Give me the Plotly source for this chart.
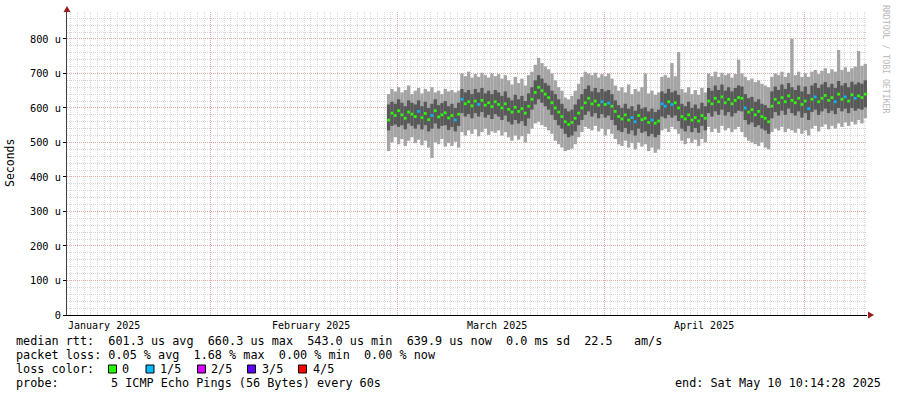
import plotly.graph_objects as go
import pandas as pd

# ---------------- data (µs), one column per 12 h, starting 2025-02-27 ----------------
ping_max = [
    640, 655, 648, 660, 645, 652, 665, 640, 650, 658, 642, 655, 648, 660, 645, 650, 640, 655, 648, 652, 645, 650,
    700, 692, 705, 688, 698, 690, 702, 695, 688, 700, 692, 698, 685, 695,
    680, 668, 690, 672, 685, 665, 695,
    705, 725, 745, 730, 720, 712, 700,
    680, 660, 650, 630, 625, 635, 650, 670,
    690, 705, 700, 695, 702, 688, 698, 692, 700, 685,
    665, 650, 660, 645, 668, 640, 655, 648, 660, 700, 642, 650, 638, 645,
    690, 695, 688, 730, 692, 762,
    655, 645, 660, 640, 652, 638, 658, 645,
    700, 692, 705, 690, 702, 695, 700, 688, 698, 740,
    700, 690, 680, 685, 675, 680, 670, 665,
    660, 690, 700, 695, 705, 690, 702, 800, 695, 705, 690,
    700, 690, 705, 710, 698, 708, 715, 700, 712, 705, 768, 710, 718, 705, 715, 720, 765, 722, 728,
]
ping_q3 = [
    610, 618, 612, 625, 615, 605, 622, 615, 610, 622, 605, 618, 600, 612, 625, 608, 614, 620, 605, 612, 600, 615,
    655, 645, 652, 640, 655, 645, 658, 642, 650, 640, 652, 645, 635, 648,
    630, 622, 638, 625, 635, 620, 642,
    660, 680, 695, 685, 672, 665, 650,
    640, 625, 612, 598, 590, 595, 610, 625,
    640, 655, 665, 648, 658, 645, 655, 648, 652, 640,
    622, 608, 600, 612, 598, 605, 592, 610, 598, 602, 590, 598, 588, 595,
    648, 642, 655, 645, 650, 638,
    612, 605, 618, 600, 610, 598, 615, 605,
    658, 650, 665, 652, 668, 650, 660, 648, 658, 665,
    662, 640, 628, 632, 618, 625, 612, 608,
    600, 648, 662, 652, 668, 655, 672, 660, 652, 665, 648,
    662, 640, 665, 672, 658, 668, 675, 660, 670, 658, 678, 665, 672, 660, 676, 668, 674, 670, 680,
]
median = [
    565, 585, 578, 592, 580, 570, 588, 582, 575, 590, 572, 584, 566, 578, 592, 574, 580, 586, 571, 578, 565, 582,
    625, 612, 618, 606, 620, 610, 622, 608, 615, 604, 618, 610, 600, 612,
    596, 588, 602, 590, 598, 585, 605,
    625, 645, 660, 650, 640, 630, 615,
    600, 588, 575, 560, 552, 558, 570, 585,
    600, 615, 628, 612, 620, 608, 618, 610, 614, 605,
    590, 575, 568, 580, 565, 572, 560, 578, 566, 570, 558, 565, 556, 562,
    612, 605, 618, 610, 615, 600,
    575, 568, 580, 565, 572, 562, 578, 570,
    620, 612, 628, 618, 632, 615, 625, 612, 622, 630,
    628, 600, 588, 595, 580, 590, 575, 570,
    560, 605, 625, 615, 630, 618, 635, 622, 615, 628, 610,
    620, 598, 625, 632, 618, 628, 636, 622, 630, 618, 640, 625, 632, 620, 638, 628, 635, 630, 640,
]
ping_q1 = [
    535, 548, 552, 545, 550, 538, 555, 548, 540, 552, 538, 550, 532, 540, 555, 540, 548, 550, 536, 545, 532, 548,
    585, 575, 582, 570, 585, 575, 588, 572, 580, 568, 582, 575, 565, 578,
    560, 552, 565, 555, 562, 548, 570,
    595, 610, 625, 615, 605, 595, 580,
    565, 550, 540, 525, 515, 520, 532, 550,
    565, 580, 590, 575, 585, 570, 582, 572, 578, 565,
    550, 535, 530, 542, 525, 535, 520, 540, 528, 532, 518, 525, 515, 522,
    575, 570, 580, 572, 578, 562,
    540, 532, 548, 530, 542, 528, 548, 535,
    585, 575, 590, 580, 595, 578, 588, 575, 585, 592,
    590, 565, 552, 558, 545, 550, 540, 535,
    525, 570, 588, 578, 592, 580, 598, 585, 578, 590, 572,
    585, 565, 588, 595, 580, 590, 598, 585, 592, 582, 600, 590, 598, 585, 600, 592, 598, 595, 602,
]
ping_min = [
    475, 500, 515, 495, 510, 490, 505, 515, 498, 508, 492, 505, 485, 455, 500, 495, 510, 488, 498, 490, 502, 485,
    530, 520, 535, 525, 538, 518, 530, 540, 522, 532, 528, 535, 520, 530,
    515, 505, 520, 508, 518, 500, 525,
    540, 555, 560, 550, 545, 535, 525,
    505, 495, 485, 475, 478, 482, 495, 515,
    530, 545, 540, 535, 548, 532, 540, 520, 538, 525,
    510, 495, 490, 505, 485, 498, 480, 500, 488, 495, 475, 485, 470, 480,
    535, 540, 530, 545, 538, 525,
    505, 495, 512, 498, 508, 490, 510, 500,
    545, 530, 540, 528, 548, 535, 542, 530, 538, 545,
    530, 515, 505, 500, 495, 490, 500, 485,
    480, 530, 540, 535, 545, 530, 540, 535, 528, 540, 525,
    535, 520, 540, 548, 532, 545, 552, 538, 548, 540, 555, 545, 558, 548, 560, 552, 565, 555, 570,
]
loss = [
    0, 0, 0, 0, 0, 0, 0, 0, 0, 1, 0, 0, 0, 1, 0, 0, 0, 0, 0, 0, 1, 0,
    1, 0, 0, 0, 0, 1, 0, 0, 0, 0, 0, 0, 0, 0,
    0, 0, 0, 0, 0, 0, 0,
    0, 0, 0, 0, 0, 0, 0,
    0, 0, 0, 0, 0, 0, 0, 0,
    0, 0, 0, 0, 0, 0, 1, 0, 1, 0,
    0, 0, 0, 0, 0, 1, 1, 0, 0, 0, 0, 1, 0, 0,
    1, 1, 0, 1, 0, 0,
    0, 0, 0, 0, 0, 0, 0, 0,
    0, 0, 0, 0, 0, 0, 0, 0, 0, 0,
    0, 1, 0, 0, 0, 0, 0, 0,
    0, 0, 0, 0, 0, 0, 0, 0, 0, 0, 0,
    0, 1, 0, 1, 0, 0, 0, 0, 0, 1, 0, 0, 1, 0, 0, 1, 0, 0, 0,
]

y_tick_vals = [0, 100, 200, 300, 400, 500, 600, 700, 800]
y_tick_text = ["0", "100 u", "200 u", "300 u", "400 u", "500 u", "600 u", "700 u", "800 u"]
month_label_dates = ["2025-01-16", "2025-02-16", "2025-03-16", "2025-04-16"]
month_labels = ["January 2025", "February 2025", "March 2025", "April 2025"]
loss_names = ["0", "1/5", "2/5", "3/5", "4/5"]
loss_colors = ["#26ff00", "#00b8ff", "#d400ff", "#5e00ff", "#ff0000"]

x_start, x_end = "2025-01-10 10:14:28", "2025-05-10 10:14:28"
first_col = pd.Timestamp("2025-02-27 16:00")
step = pd.Timedelta(hours=12)
step_ms = step.total_seconds() * 1000
xs = [first_col + step * i for i in range(len(median))]

# ---------------- layout geometry ----------------
L, T, W, H = 67, 12, 800, 303
FIG_W, FIG_H = 897, 397
def px(x):
    return (x - L) / W
def py(y):
    return (T + H - y) / H

MONO = "DejaVu Sans Mono"
NB = "\u00a0"
def nb(s):
    return s.replace(" ", NB)

fig = go.Figure()

LIGHT, DARK = "#a4a4a4", "#585858"
fig.add_trace(go.Bar(x=xs, base=ping_min, y=[h - l for h, l in zip(ping_max, ping_min)],
                     width=step_ms, marker=dict(color=LIGHT, line=dict(width=0)), hoverinfo="skip"))
fig.add_trace(go.Bar(x=xs, base=ping_q1, y=[h - l for h, l in zip(ping_q3, ping_q1)],
                     width=step_ms, marker=dict(color=DARK, line=dict(width=0)), hoverinfo="skip"))
MED_H = 8
fig.add_trace(go.Bar(x=xs, base=[m - MED_H / 2 for m in median], y=[MED_H] * len(median),
                     width=step_ms * 0.8, marker=dict(color=[loss_colors[l] for l in loss], line=dict(width=0)),
                     hoverinfo="skip"))

DOT = "1px,1px"
MINOR = "#d6d6d6"
MAJOR = "#e4a8a8"
fig.update_layout(
    width=FIG_W, height=FIG_H,
    margin=dict(l=L, r=FIG_W - L - W, t=T, b=FIG_H - T - H, pad=0),
    paper_bgcolor="white", plot_bgcolor="white",
    barmode="overlay", showlegend=False,
    font=dict(family=MONO, size=10, color="black"),
    xaxis=dict(
        type="date", range=[x_start, x_end],
        tick0="2025-01-01", dtick="M1", showticklabels=False, ticks="",
        showgrid=True, gridcolor=MAJOR, griddash=DOT, gridwidth=1,
        minor=dict(dtick=86400000, tick0="2025-01-01", showgrid=True, gridcolor=MINOR, griddash=DOT),
        showline=True, linecolor="black", linewidth=1, zeroline=False, fixedrange=True,
    ),
    yaxis=dict(
        range=[0, 878], tickvals=y_tick_vals, ticktext=y_tick_text,
        tickfont=dict(family=MONO, size=10.3, color="black"),
        ticks="outside", ticklen=3, tickcolor="black",
        showgrid=True, gridcolor=MAJOR, griddash=DOT, gridwidth=1,
        minor=dict(dtick=20, showgrid=True, gridcolor=MINOR, griddash=DOT),
        showline=True, linecolor="#404040", linewidth=1, zeroline=False, fixedrange=True,
    ),
)

ann = []
for d, lab in zip(month_label_dates, month_labels):
    ann.append(dict(x=d, y=py(325), xref="x", yref="paper", text=lab, showarrow=False,
                    xanchor="center", yanchor="middle", font=dict(family=MONO, size=10, color="black")))

ann.append(dict(x=px(10), y=py(163), xref="paper", yref="paper", text="Seconds", textangle=-90,
                showarrow=False, xanchor="center", yanchor="middle",
                font=dict(family=MONO, size=11.5, color="black")))
ann.append(dict(x=px(886), y=py(59), xref="paper", yref="paper", text=nb("RRDTOOL / TOBI OETIKER"),
                textangle=90, showarrow=False, xanchor="center", yanchor="middle",
                font=dict(family=MONO, size=8.2, color="#b8b8b8")))

LF = dict(family=MONO, size=11.8, color="black")
def legend_text(x, y, s, anchor="left"):
    ann.append(dict(x=px(x), y=py(y), xref="paper", yref="paper", text=nb(s), showarrow=False,
                    xanchor=anchor, yanchor="middle", font=LF, borderpad=0))

legend_text(15, 341, "median rtt:  601.3 us avg  660.3 us max  543.0 us min  639.9 us now  0.0 ms sd  22.5   am/s")
legend_text(15, 355, "packet loss: 0.05 % avg  1.68 % max  0.00 % min  0.00 % now")
legend_text(15, 369, "loss color:")
legend_text(15, 383, "probe:")
legend_text(110, 383, "5 ICMP Echo Pings (56 Bytes) every 60s")
legend_text(882, 383, "end: Sat May 10 10:14:28 2025", anchor="right")

shapes = []
box_x = [108.5, 146, 197.5, 247.5, 298.5]
text_x = [121, 158.5, 210, 260.5, 311.5]
for bx, tx, name, col in zip(box_x, text_x, loss_names, loss_colors):
    shapes.append(dict(type="rect", xref="paper", yref="paper",
                       x0=px(bx), x1=px(bx + 8), y0=py(373), y1=py(365),
                       fillcolor=col, line=dict(color="black", width=1)))
    legend_text(tx, 369, name)

# axis arrowheads (decoration at the axis ends)
ARROW = "#9b1c1c"
shapes.append(dict(type="path", xref="paper", yref="paper",
                   path=f"M {px(63.5)} {py(12)} L {px(70.5)} {py(12)} L {px(67)} {py(6)} Z",
                   fillcolor=ARROW, line=dict(color=ARROW, width=0)))
shapes.append(dict(type="path", xref="paper", yref="paper",
                   path=f"M {px(868)} {py(311.5)} L {px(868)} {py(318.5)} L {px(874)} {py(315)} Z",
                   fillcolor=ARROW, line=dict(color=ARROW, width=0)))

fig.update_layout(annotations=ann, shapes=shapes)
fig.write_html("out.html", config={"displayModeBar": False, "staticPlot": True},
               post_script="document.body.style.margin='0px';document.body.style.overflow='hidden';")
